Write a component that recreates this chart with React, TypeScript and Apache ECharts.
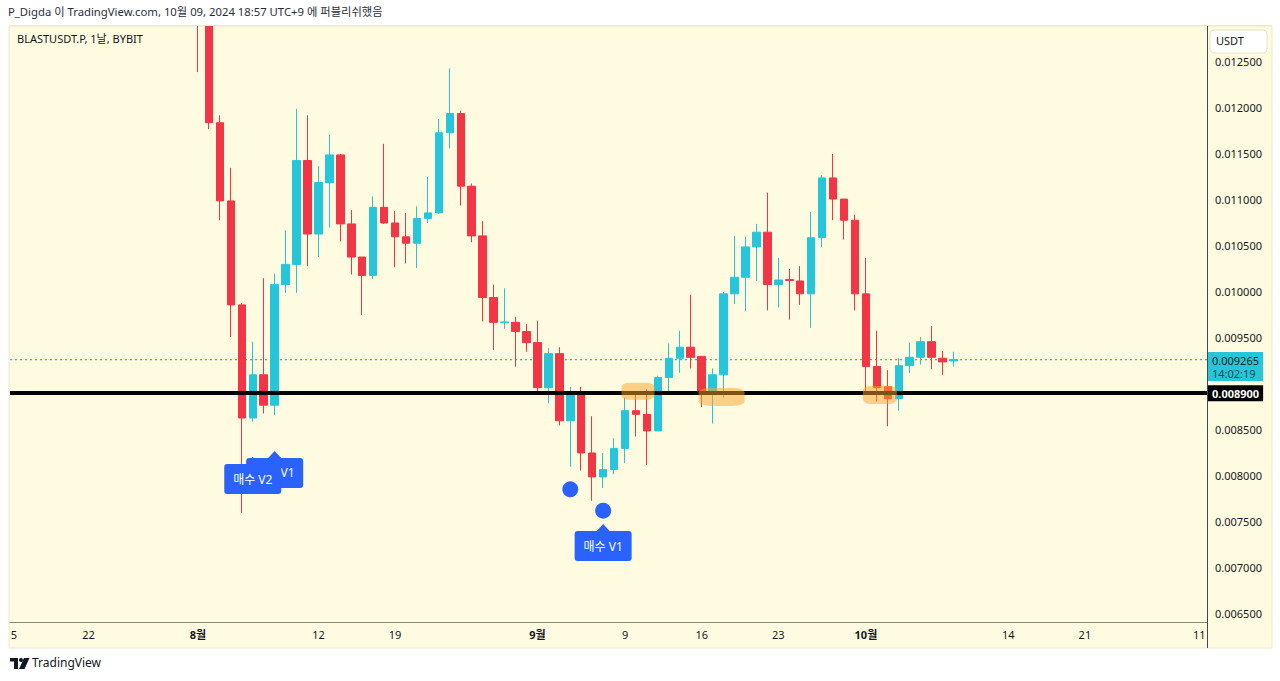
import React, { useEffect, useRef } from 'react';
import * as echarts from 'echarts';

// ---------- data ----------
const dates = [
  '2024-08-01','2024-08-02','2024-08-03','2024-08-04','2024-08-05','2024-08-06','2024-08-07','2024-08-08','2024-08-09','2024-08-10',
  '2024-08-11','2024-08-12','2024-08-13','2024-08-14','2024-08-15','2024-08-16','2024-08-17','2024-08-18','2024-08-19','2024-08-20',
  '2024-08-21','2024-08-22','2024-08-23','2024-08-24','2024-08-25','2024-08-26','2024-08-27','2024-08-28','2024-08-29','2024-08-30',
  '2024-08-31','2024-09-01','2024-09-02','2024-09-03','2024-09-04','2024-09-05','2024-09-06','2024-09-07','2024-09-08','2024-09-09',
  '2024-09-10','2024-09-11','2024-09-12','2024-09-13','2024-09-14','2024-09-15','2024-09-16','2024-09-17','2024-09-18','2024-09-19',
  '2024-09-20','2024-09-21','2024-09-22','2024-09-23','2024-09-24','2024-09-25','2024-09-26','2024-09-27','2024-09-28','2024-09-29',
  '2024-09-30','2024-10-01','2024-10-02','2024-10-03','2024-10-04','2024-10-05','2024-10-06','2024-10-07','2024-10-08','2024-10-09',
];
const opens = [
  0.01420, 0.01310, 0.01184, 0.01099, 0.00986, 0.00863, 0.00910, 0.00877, 0.01008, 0.01030,
  0.01143, 0.01063, 0.01119, 0.01149, 0.01074, 0.01038, 0.01018, 0.01092, 0.01075, 0.01060,
  0.01053, 0.01080, 0.01086, 0.01173, 0.01194, 0.01115, 0.01061, 0.00994, 0.009665, 0.00967,
  0.00957, 0.00945, 0.00896, 0.00933, 0.00860, 0.00888, 0.00825, 0.00799, 0.00807, 0.00830,
  0.00871, 0.00867, 0.00849, 0.00907, 0.00928, 0.00940, 0.00930, 0.00889, 0.00910, 0.00998,
  0.01016, 0.01049, 0.01065, 0.01008, 0.010135, 0.01012, 0.00998, 0.01059, 0.01124, 0.01101,
  0.01078, 0.00998, 0.00919, 0.00897, 0.00884, 0.00920, 0.00929, 0.00946, 0.00928, 0.00925,
];
const highs = [
  0.01450, 0.01330, 0.01192, 0.01135, 0.00988, 0.00946, 0.01015, 0.01020, 0.01067, 0.01199,
  0.01192, 0.01137, 0.01171, 0.01150, 0.01089, 0.01038, 0.01104, 0.01161, 0.01088, 0.01086,
  0.01093, 0.01125, 0.01188, 0.01243, 0.01197, 0.01118, 0.01077, 0.01008, 0.01004, 0.00973,
  0.00965, 0.00969, 0.00939, 0.00940, 0.00897, 0.00897, 0.00865, 0.00825, 0.00841, 0.00885,
  0.00892, 0.00894, 0.00909, 0.00944, 0.00958, 0.00997, 0.00930, 0.00917, 0.01000, 0.01061,
  0.01060, 0.01074, 0.01108, 0.01037, 0.01025, 0.01028, 0.01087, 0.01127, 0.01150, 0.01101,
  0.01084, 0.01037, 0.00958, 0.00915, 0.00928, 0.00945, 0.00951, 0.00963, 0.00936, 0.00935,
];
const lows = [
  0.01239, 0.01177, 0.01078, 0.00951, 0.00760, 0.00859, 0.00868, 0.00866, 0.00999, 0.00999,
  0.01028, 0.01038, 0.01070, 0.01055, 0.01019, 0.00975, 0.01014, 0.01074, 0.01027, 0.01031,
  0.01026, 0.01075, 0.01085, 0.01156, 0.01094, 0.01054, 0.00968, 0.00937, 0.00960, 0.00919,
  0.00935, 0.00892, 0.00879, 0.00855, 0.00810, 0.00806, 0.00773, 0.00787, 0.00802, 0.00814,
  0.00843, 0.00812, 0.00849, 0.00890, 0.00912, 0.00917, 0.00875, 0.00857, 0.00885, 0.00987,
  0.00979, 0.01012, 0.00980, 0.00983, 0.00970, 0.00986, 0.00961, 0.01049, 0.01078, 0.01057,
  0.00980, 0.00890, 0.00881, 0.00854, 0.00871, 0.00912, 0.00921, 0.00916, 0.00910, 0.00919,
];
const closes = [
  0.01310, 0.01184, 0.01099, 0.00986, 0.00863, 0.00910, 0.00877, 0.01008, 0.01030, 0.01143,
  0.01063, 0.01119, 0.01149, 0.01074, 0.01038, 0.01018, 0.01092, 0.01075, 0.01060, 0.01053,
  0.01080, 0.01086, 0.01173, 0.01194, 0.01115, 0.01061, 0.00994, 0.00967, 0.009675, 0.00957,
  0.00945, 0.00896, 0.00933, 0.00860, 0.00888, 0.00825, 0.00799, 0.00807, 0.00830, 0.00871,
  0.00867, 0.00849, 0.00907, 0.00928, 0.00940, 0.00929, 0.00889, 0.00910, 0.00998, 0.01016,
  0.01049, 0.01065, 0.01008, 0.01013, 0.010125, 0.00998, 0.01059, 0.01124, 0.01101, 0.01078,
  0.00998, 0.00919, 0.00896, 0.00884, 0.00920, 0.00929, 0.00946, 0.00929, 0.00924, 0.009265,
];

const xTickDates = ['2024-07-15','2024-07-22','2024-08-01','2024-08-12','2024-08-19','2024-09-01','2024-09-09','2024-09-16','2024-09-23','2024-10-01','2024-10-14','2024-10-21','2024-11-01'];
const xTickLabels = ['5','22','8월','12','19','9월','9','16','23','10월','14','21','11'];
const monthTicks = ['8월','9월','10월'];
// 0.009000 sits under the price markers in the reference, so it is left out
const yTicks = [0.0065, 0.007, 0.0075, 0.008, 0.0085, 0.0095, 0.01, 0.0105, 0.011, 0.0115, 0.012, 0.0125];

const supportLevel = 0.0089;
const lastPrice = 0.009265;
const countdown = '14:02:19';

const highlightDates = ['2024-09-10', '2024-09-18', '2024-10-02'];
const highlightPrices = [0.00892, 0.00886, 0.00888];
const signalDotDates = ['2024-09-04', '2024-09-07'];
const signalDotPrices = [0.007855, 0.007623];
const backLabelDates = ['2024-08-08'];
const backLabelPrices = [0.008071];
const backLabelTexts = ['V1'];
const frontLabelDates = ['2024-08-06', '2024-09-07'];
const frontLabelPrices = [0.008005, 0.007277];
const frontLabelTexts = ['매수 V2', '매수 V1'];

const titleText = 'P_Digda 이 TradingView.com, 10월 09, 2024 18:57 UTC+9 에 퍼블리쉬했음';
const symbolText = 'BLASTUSDT.P, 1날, BYBIT';

// ---------- helpers ----------
const BASE = Date.parse('2024-08-01T00:00:00Z');
const dayIndex = (s: string) => Math.round((Date.parse(s + 'T00:00:00Z') - BASE) / 86400000);

const X_MIN = -17.17;
const X_MAX = 92.15;
const UP = '#26C6DA';
const DOWN = '#F23645';
const BLUE = '#2962FF';
const TXT = '#131722';
const FONT = "'Noto Sans', 'Noto Sans CJK KR', sans-serif";
const BUBBLE = 'path://M3,7 L22,7 L28.5,0 L35,7 L54,7 Q57,7 57,10 L57,34 Q57,37 54,37 L3,37 Q0,37 0,34 L0,10 Q0,7 3,7 Z';

const highlightSizes = [[33, 17], [46, 18], [34, 18]];
const highlightShift = [[2, 0], [-2, 0], [3, 0]];

function bubbleItems(ds: string[], ps: number[], texts: string[], textShift: number) {
  return ds.map((d, i) => ({
    value: [dayIndex(d), ps[i]],
    symbol: BUBBLE,
    symbolSize: [57, 37],
    itemStyle: { color: BLUE, opacity: 1 },
    label: {
      show: true,
      position: 'inside',
      formatter: texts[i],
      color: '#ffffff',
      fontSize: 12,
      fontFamily: FONT,
      offset: [textShift, 3.5],
    },
  }));
}

export default function App() {
  const ref = useRef<HTMLDivElement>(null);

  useEffect(() => {
    if (!ref.current) return;
    const chart = echarts.init(ref.current, undefined, { renderer: 'svg' });

    const candleData = dates.map((d, i) => [dayIndex(d), opens[i], closes[i], lows[i], highs[i]]);

    const option: any = {
      animation: false,
      backgroundColor: '#ffffff',
      textStyle: { fontFamily: FONT },
      grid: { left: 10, right: 73, top: 26, bottom: 59, containLabel: false },
      xAxis: {
        type: 'value',
        min: X_MIN,
        max: X_MAX,
        splitLine: { show: false },
        axisTick: { show: false },
        axisLine: { show: true, onZero: false, lineStyle: { color: '#8a8878', width: 1 } },
        axisLabel: {
          customValues: xTickDates.map(dayIndex),
          margin: 7,
          fontSize: 11,
          color: TXT,
          fontFamily: FONT,
          formatter: (v: number) => {
            const idx = xTickDates.findIndex((d) => dayIndex(d) === Math.round(v));
            if (idx < 0) return '';
            const t = xTickLabels[idx];
            if (monthTicks.includes(t)) return '{b|' + t + '}';
            if (idx === xTickLabels.length - 1) return '{r|' + t + '}';
            if (idx === 0) return '{l|' + t + '}';
            return t;
          },
          rich: {
            b: { fontWeight: 'bold', fontSize: 11, color: TXT, fontFamily: FONT },
            r: { padding: [0, 12, 0, 0], fontSize: 11, color: TXT, fontFamily: FONT },
            l: { padding: [0, 0, 0, 4], fontSize: 11, color: TXT, fontFamily: FONT },
          },
        },
      },
      yAxis: {
        type: 'value',
        position: 'right',
        min: 0.006413,
        max: 0.0128913,
        splitLine: { show: false },
        axisTick: { show: false },
        axisLine: { show: true, onZero: false, lineStyle: { color: '#434651', width: 1 } },
        axisLabel: {
          customValues: yTicks,
          formatter: (v: number) => v.toFixed(6),
          fontSize: 11,
          color: TXT,
          margin: 8,
          fontFamily: FONT,
        },
      },
      graphic: [
        { type: 'rect', z: -100, silent: true, shape: { x: 9, y: 26, width: 1263, height: 622 }, style: { fill: '#FFFBE0', stroke: '#ECE9D0', lineWidth: 1 } },
        { type: 'rect', z: 50, silent: true, shape: { x: 0, y: 0, width: 1280, height: 25.5 }, style: { fill: '#ffffff' } },
        { type: 'line', z: 50, silent: true, shape: { x1: 9, y1: 25.5, x2: 1272, y2: 25.5 }, style: { stroke: '#ECE9D0', lineWidth: 1 } },
        { type: 'line', z: 10, silent: true, shape: { x1: 1207.5, y1: 622, x2: 1207.5, y2: 648 }, style: { stroke: '#434651', lineWidth: 1 } },
        { type: 'text', z: 51, left: 8, top: 6, style: { text: titleText, fontSize: 11.3, fill: '#2a2e39', fontFamily: FONT } },
        { type: 'text', z: 10, left: 17, top: 33, style: { text: symbolText, fontSize: 11, fill: TXT, fontFamily: FONT } },
        { type: 'rect', z: 10, silent: true, shape: { x: 1210, y: 30, width: 57, height: 23, r: 4 }, style: { fill: '#ffffff', stroke: '#E6E3CC', lineWidth: 1 } },
        { type: 'text', z: 11, left: 1216, top: 35, style: { text: 'USDT', fontSize: 11, fill: TXT, fontFamily: FONT } },
        {
          type: 'group', left: 10, top: 658, z: 10,
          children: [
            { type: 'rect', shape: { x: 0, y: 0, width: 8, height: 3.5 }, style: { fill: TXT } },
            { type: 'rect', shape: { x: 4, y: 0, width: 4, height: 11 }, style: { fill: TXT } },
            { type: 'circle', shape: { cx: 11, cy: 2, r: 2 }, style: { fill: TXT } },
            { type: 'polygon', shape: { points: [[14, 0], [19.5, 0], [14.5, 11], [9, 11]] }, style: { fill: TXT } },
          ],
        },
        { type: 'text', z: 10, left: 32, top: 656, style: { text: 'TradingView', fontSize: 12, fill: TXT, fontFamily: FONT } },
      ],
      series: [
        {
          type: 'line',
          name: 'lastPriceLine',
          data: [[X_MIN, lastPrice], [X_MAX, lastPrice]],
          silent: true,
          symbol: 'none',
          z: 1,
          lineStyle: { color: '#1FB8CC', width: 1.2, type: [2, 3], opacity: 1 },
          itemStyle: { color: UP },
          markLine: {
            symbol: ['none', 'none'],
            silent: true,
            animation: false,
            precision: 6,
            lineStyle: { color: 'rgba(0,0,0,0)', width: 1, type: 'solid' },
            data: [
              {
                yAxis: lastPrice,
                label: {
                  show: true,
                  position: 'end',
                  distance: 1,
                  offset: [0, 7],
                  backgroundColor: UP,
                  padding: [2, 4, 1, 4],
                  formatter: '{p|' + lastPrice.toFixed(6) + '}\n{t|' + countdown + '}',
                  rich: {
                    p: { fontSize: 11, color: TXT, lineHeight: 13, fontFamily: FONT },
                    t: { fontSize: 11, color: '#0E4B57', lineHeight: 13, fontFamily: FONT },
                  },
                },
              },
            ],
          },
        },
        {
          type: 'candlestick',
          name: 'BLASTUSDT.P',
          data: candleData,
          barWidth: 8,
          clip: true,
          z: 2,
          silent: true,
          itemStyle: { color: UP, color0: DOWN, borderColor: UP, borderColor0: DOWN, borderWidth: 1 },
        },
        {
          type: 'line',
          name: 'supportLine',
          data: [],
          silent: true,
          color: '#000000',
          itemStyle: { color: '#000000' },
          markLine: {
            symbol: ['none', 'none'],
            silent: true,
            animation: false,
            precision: 6,
            lineStyle: { color: '#000000', width: 3.8, type: 'solid', opacity: 1 },
            data: [
              {
                yAxis: supportLevel,
                label: {
                  show: true,
                  position: 'end',
                  distance: 1,
                  backgroundColor: '#000000',
                  color: '#ffffff',
                  fontSize: 11,
                  fontWeight: 'bold',
                  padding: [3, 4, 2, 4],
                  fontFamily: FONT,
                  formatter: supportLevel.toFixed(6),
                },
              },
            ],
          },
        },
        {
          type: 'scatter',
          name: 'signalsBack',
          silent: true,
          z: 4,
          data: bubbleItems(backLabelDates, backLabelPrices, backLabelTexts, 13),
        },
        {
          type: 'scatter',
          name: 'signalsFront',
          silent: true,
          z: 5,
          data: [
            ...signalDotDates.map((d, i) => ({ value: [dayIndex(d), signalDotPrices[i]], symbol: 'circle', symbolSize: 16, itemStyle: { color: BLUE, opacity: 1 } })),
            ...bubbleItems(frontLabelDates, frontLabelPrices, frontLabelTexts, 0),
          ],
        },
        {
          type: 'scatter',
          name: 'zones',
          silent: true,
          z: 6,
          data: highlightDates.map((d, i) => ({
            value: [dayIndex(d), highlightPrices[i]],
            symbol: 'roundRect',
            symbolSize: highlightSizes[i],
            symbolOffset: highlightShift[i],
            itemStyle: { color: 'rgba(247, 166, 40, 0.5)', opacity: 1 },
          })),
        },
      ],
    };

    chart.setOption(option);
    return () => chart.dispose();
  }, []);

  return (
    <div style={{ position: 'fixed', left: 0, top: 0, width: 1280, height: 681, background: '#fff' }}>
      <div ref={ref} style={{ width: 1280, height: 681 }} />
    </div>
  );
}
